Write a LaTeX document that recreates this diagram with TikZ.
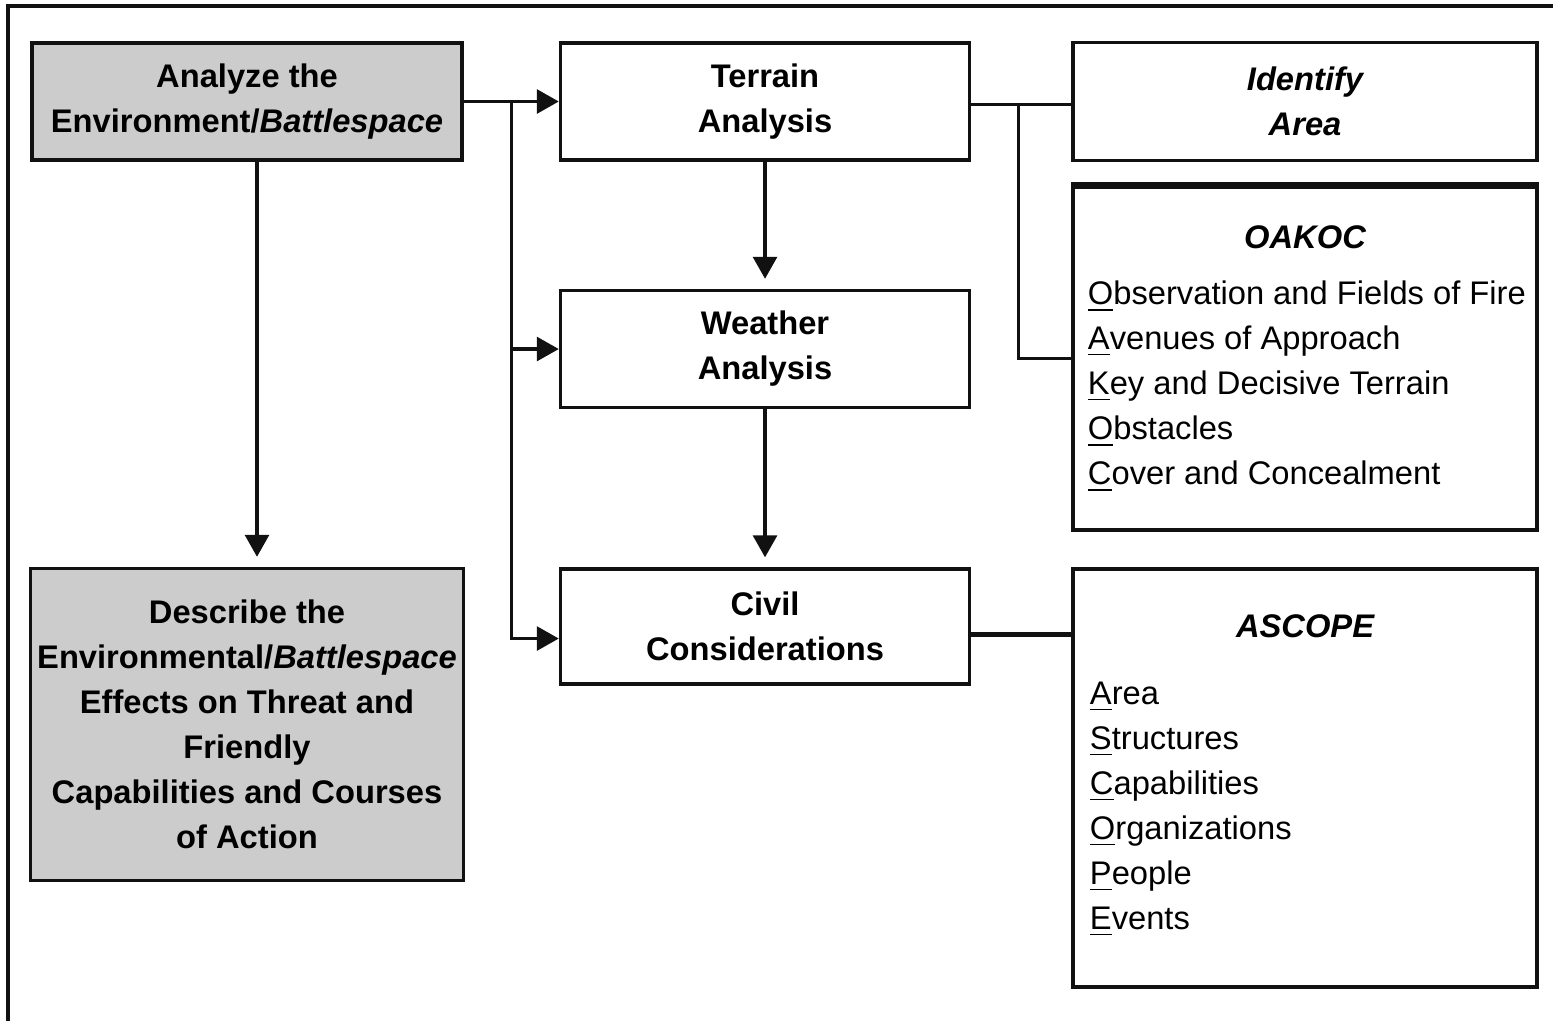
\documentclass[tikz,border=0pt]{standalone}
\usepackage{fontspec}
\setmainfont{Liberation Sans}
\usepackage{xcolor}
\usetikzlibrary{arrows.meta,positioning}
\definecolor{cLine}{HTML}{111111}
\definecolor{cFill}{HTML}{CCCCCC}
\newcommand{\boxfont}{\fontsize{9.3}{12.8}\selectfont}
\newcommand{\keyltr}[1]{\underline{#1}}
\tikzset{
  blk/.style={draw=cLine, line width=1pt, fill=white, inner sep=1pt,
              align=center, font=\boxfont\bfseries},
  greyblk/.style={blk, fill=cFill, minimum width=4.3cm},
  stepblk/.style={blk, minimum width=4.09cm, minimum height=1.17cm},
  listblk/.style={blk, minimum width=4.64cm},
  ttl/.style={inner sep=0pt, font=\boxfont\bfseries\itshape},
  items/.style={inner sep=0pt, align=left, font=\boxfont},
  arr/.style={-{Triangle[length=2.2mm,width=2.4mm]}, line width=0.9pt, cLine},
  link/.style={line width=0.9pt, cLine}
}

\begin{document}
\begin{tikzpicture}[node distance=1cm]
\useasboundingbox (0,0) rectangle (15.53,-10.21);
% frame, cut off at right and bottom
\draw[line width=1.2pt, cLine] (0.08,-10.21) -- (0.08,-0.06) -- (15.53,-0.06);
% left column
\node[greyblk, minimum height=1.17cm] (analyze) at (2.47,-1.015) {Analyze the\\Environment/\textit{Battlespace}};
\node[greyblk, minimum width=4.33cm, minimum height=3.12cm, below=4.05cm of analyze] (describe) {Describe the\\Environmental/\textit{Battlespace}\\Effects on Threat and\\Friendly\\Capabilities and Courses\\of Action};
% middle column
\node[stepblk, right=0.95cm of analyze] (terrain) {Terrain\\Analysis};
\node[stepblk, below=1.27cm of terrain] (weather) {Weather\\Analysis};
\node[stepblk, minimum height=1.15cm, below=1.58cm of weather] (civil) {Civil\\Considerations};
% right column
\node[listblk, minimum height=1.18cm, right=1.0cm of terrain, font=\boxfont\bfseries\itshape] (identify) {Identify\\Area};
\node[listblk, minimum height=3.43cm, below=0.23cm of identify] (oakoc) {};
\node[ttl, below=0.40cm of oakoc.north] (oakocttl) {OAKOC};
\node[items, below right=0.95cm and 0.16cm of oakoc.north west] (oakoclist) {\keyltr{O}bservation and Fields of Fire\\
\keyltr{A}venues of Approach\\\keyltr{K}ey and Decisive Terrain\\\keyltr{O}bstacles\\\keyltr{C}over and Concealment};
\node[listblk, minimum height=4.18cm, right=1.0cm of civil.north east, anchor=north west] (ascope) {};
\node[ttl, below=0.47cm of ascope.north] (ascopettl) {ASCOPE};
\node[items, below right=1.14cm and 0.18cm of ascope.north west] (ascopelist) {\keyltr{A}rea\\\keyltr{S}tructures\\
\keyltr{C}apabilities\\\keyltr{O}rganizations\\\keyltr{P}eople\\\keyltr{E}vents};
\draw[line width=1.8pt, cLine] (oakoc.north west) -- (oakoc.north east);
% connectors
\coordinate (split) at ([xshift=4.8mm]analyze.east);
\draw[arr] (analyze) -- (terrain);
\draw[arr] (split) |- (weather.west);
\draw[arr] (split) |- ([yshift=-1.2mm]civil.west);
\draw[arr, shorten >=1mm] ([xshift=1mm]analyze.south) -- ([xshift=1mm]describe.north);
\draw[arr, shorten >=1mm] (terrain) -- (weather);
\draw[arr, shorten >=1mm] (weather) -- (civil);
\coordinate (split2) at ([xshift=4.7mm, yshift=-0.3mm]terrain.east);
\draw[link] ([yshift=-0.3mm]terrain.east) -- (split2 -| identify.west);
\draw[link] (split2) |- (oakoc.west);
\draw[link, line width=1.5pt] ([yshift=-0.8mm]civil.east) -- ([yshift=-0.8mm]civil.east -| ascope.west);
\end{tikzpicture}
\end{document}
